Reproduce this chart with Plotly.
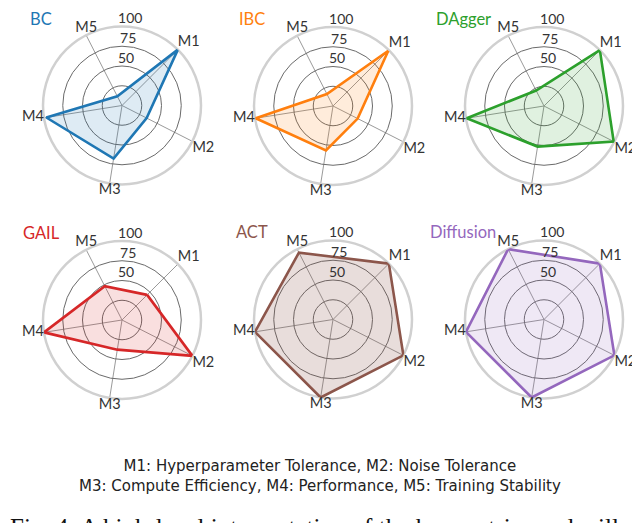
import plotly.graph_objects as go

W, H = 640, 523
# the page body adds an 8px margin, so every position below is given in
# window pixels and moved back by this offset
OX, OY = 8, 8

metrics = ["M1", "M2", "M3", "M4", "M5"]
methods = ["BC", "IBC", "DAgger", "GAIL", "ACT", "Diffusion"]
colors = ["#1f77b4", "#ff7f0e", "#2ca02c", "#d62728", "#8c564b", "#9467bd"]
fills = ["rgba(31,119,180,0.15)", "rgba(255,127,14,0.15)", "rgba(44,160,44,0.15)",
         "rgba(214,39,40,0.15)", "rgba(140,86,75,0.2)", "rgba(148,103,189,0.15)"]

bc = [100, 35, 68, 97, 13]
ibc = [99, 35, 57, 99, 17]
dagger = [100, 99, 52, 99, 22]
gail = [45, 100, 38, 100, 48]
act = [100, 100, 100, 100, 95]
diffusion = [100, 100, 100, 100, 100]
scores = [bc, ibc, dagger, gail, act, diffusion]

grid_vals = [25, 50, 75]
tick_vals = [50, 75, 100]

# window-pixel centres of each radar, radius of the 100 ring
centers = [(122, 105.5), (333, 106), (544, 106), (122, 320), (333, 319.5), (544, 319.5)]
R = 79
FONT = "Lato"
label_pos = ["top right", "bottom right", "bottom center", "middle left", "top center"]


def px(x, y):
    return (x - OX) / W, 1 - (y - OY) / H


theta = [i * 360 / len(metrics) for i in range(len(metrics))]

fig = go.Figure()
layout = {}
annotations = []
for i, (name, vals) in enumerate(zip(methods, scores)):
    pid = "polar" if i == 0 else f"polar{i + 1}"
    cx, cy = centers[i]
    x0, y1 = px(cx - R, cy - R)
    x1, y0 = px(cx + R, cy + R)
    fig.add_trace(go.Scatterpolar(
        r=vals + vals[:1], theta=theta + theta[:1], mode="lines",
        fill="toself", fillcolor=fills[i],
        line=dict(color=colors[i], width=2.6),
        cliponaxis=False, showlegend=False, subplot=pid, hoverinfo="skip"))
    # radial tick labels, set just above their rings
    fig.add_trace(go.Scatterpolar(
        r=tick_vals, theta=[-39] * len(tick_vals), mode="text",
        text=[str(v) for v in tick_vals], textposition="top center",
        textfont=dict(family=FONT, size=14, color="#333"),
        cliponaxis=False, showlegend=False, subplot=pid, hoverinfo="skip"))
    # metric names just outside the outer ring
    fig.add_trace(go.Scatterpolar(
        r=[100] * len(metrics), theta=theta, mode="text",
        text=metrics, textposition=label_pos,
        textfont=dict(family=FONT, size=14.5, color="#333"),
        cliponaxis=False, showlegend=False, subplot=pid, hoverinfo="skip"))
    layout[pid] = dict(
        domain=dict(x=[x0, x1], y=[y0, y1]),
        bgcolor="rgba(0,0,0,0)",
        radialaxis=dict(range=[0, 100], tickvals=grid_vals, showticklabels=False,
                        showline=False, ticks="", gridcolor="#6a6a6a", gridwidth=1,
                        layer="below traces"),
        angularaxis=dict(rotation=45, direction="clockwise", tickvals=theta,
                         showticklabels=False, ticks="", showline=True,
                         linecolor="#d0d0d0", linewidth=2.5, gridcolor="#9a9a9a",
                         gridwidth=1, layer="below traces"),
    )
    tx, ty = px(cx - 81, cy - 87)
    annotations.append(dict(
        text=name, x=tx, y=ty, xref="paper", yref="paper",
        xanchor="center", yanchor="middle", showarrow=False,
        font=dict(family=FONT, size=16.5, color=colors[i])))

cx_, cy_ = px(320, 476)
annotations.append(dict(
    text="M1: Hyperparameter Tolerance, M2: Noise Tolerance<br>"
         "M3: Compute Efficiency, M4: Performance, M5: Training Stability",
    x=cx_, y=cy_, xref="paper", yref="paper", xanchor="center", yanchor="middle",
    showarrow=False, align="center",
    font=dict(family="DejaVu Sans", size=15, color="#222")))
fx, fy = px(OX, 527)
annotations.append(dict(
    text="Fig. 4: A high-level interpretation of the key metrics and will",
    x=fx, y=fy, xref="paper", yref="paper", xanchor="left", yanchor="middle",
    showarrow=False, font=dict(family="Liberation Serif", size=25, color="#111")))

fig.update_layout(
    width=W, height=H, margin=dict(l=0, r=0, t=0, b=0),
    paper_bgcolor="white", plot_bgcolor="white",
    annotations=annotations, **layout)

fig.write_html("out.html")
